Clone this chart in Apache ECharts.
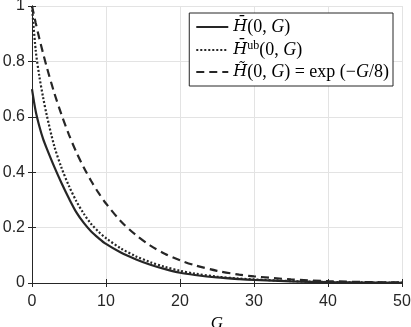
<!DOCTYPE html>
<html lang="en">
<head>
    <meta charset="UTF-8">
    <title>H(0,G)</title>
    <script type="text/javascript" src="https://cdn.jsdelivr.net/npm/echarts@6/dist/echarts.min.js"></script>
    <style>
        html, body {
            margin: 0;
            padding: 0;
            background: #ffffff;
        }
        #chart-container {
            width: 411px;
            height: 327px;
        }
    </style>
</head>
<body>
    <div id="chart-container"></div>

    <script>
        // values
        const gValues = [0, 0.5, 1, 1.5, 2, 3, 4, 5, 6, 7, 8, 9, 10, 12, 14, 16, 18, 20, 22, 25, 28, 30, 35, 40, 45, 50];
        const hBar = [0.70, 0.62, 0.565, 0.52, 0.485, 0.42, 0.36, 0.305, 0.255, 0.217, 0.186, 0.162, 0.141, 0.110, 0.086, 0.066, 0.050, 0.037, 0.029, 0.020, 0.014, 0.011, 0.006, 0.003, 0.0015, 0.0008];
        const hUb = [1.0, 0.84, 0.745, 0.67, 0.605, 0.495, 0.415, 0.35, 0.295, 0.25, 0.213, 0.185, 0.162, 0.125, 0.097, 0.075, 0.058, 0.044, 0.034, 0.023, 0.016, 0.013, 0.007, 0.0035, 0.002, 0.001];
        const hTilde = [1.0, 0.939, 0.882, 0.829, 0.779, 0.687, 0.607, 0.535, 0.472, 0.417, 0.368, 0.325, 0.287, 0.223, 0.174, 0.135, 0.105, 0.082, 0.064, 0.044, 0.030, 0.024, 0.013, 0.0067, 0.0036, 0.0019];
        const seriesNames = ['hbar', 'hub', 'htilde'];
        const legendLabels = {
            hbar: '{h|H\u0304}{r|(0, }{i|G}{r|)}',
            hub: '{h|H\u0304}{s|ub}{r|(0, }{i|G}{r|)}',
            htilde: '{h|H\u0303}{r|(0, }{i|G}{r|) = exp (\u2212}{i|G}{r|/8)}'
        };

        const ink = '#262626';
        const serif = '"Liberation Serif", "DejaVu Serif", serif';
        const sans = '"Liberation Sans", Arial, sans-serif';

        function pairs(ys) {
            return ys.map((y, i) => [gValues[i], y]);
        }

        const myChart = echarts.init(document.getElementById('chart-container'), null, { renderer: 'canvas' });

        const hiddenAxis = {
            axisLine: { show: true, lineStyle: { color: ink, width: 1 } },
            axisTick: { show: true, inside: true, length: 4, lineStyle: { color: ink } },
            axisLabel: { show: false },
            splitLine: { show: false }
        };

        const option = {
            animation: false,
            backgroundColor: '#ffffff',
            grid: {
                left: 32,
                right: 9,
                top: 6,
                bottom: 44,
                containLabel: false,
                outerBoundsMode: 'none'
            },
            legend: {
                orient: 'vertical',
                right: 18,
                top: 13,
                data: seriesNames,
                itemWidth: 32,
                itemHeight: 18,
                itemGap: 4,
                padding: [5, 4, 5, 6],
                backgroundColor: '#ffffff',
                borderColor: ink,
                borderWidth: 1,
                borderRadius: 0,
                itemStyle: { opacity: 0 },
                formatter: name => legendLabels[name],
                textStyle: {
                    color: '#000',
                    rich: {
                        h: { fontFamily: '"DejaVu Serif", serif', fontStyle: 'italic', fontSize: 16, lineHeight: 20, color: '#000' },
                        i: { fontFamily: serif, fontStyle: 'italic', fontSize: 18, lineHeight: 20, color: '#000' },
                        r: { fontFamily: serif, fontSize: 18, lineHeight: 20, color: '#000' },
                        s: { fontFamily: serif, fontSize: 12, lineHeight: 10, color: '#000', verticalAlign: 'top' }
                    }
                }
            },
            xAxis: [
                {
                    type: 'value',
                    min: 0,
                    max: 50,
                    interval: 10,
                    name: 'G',
                    nameLocation: 'middle',
                    nameGap: 24,
                    nameTextStyle: { fontFamily: serif, fontStyle: 'italic', fontSize: 17, color: '#000' },
                    axisLine: { show: true, lineStyle: { color: ink, width: 1 } },
                    axisTick: { show: true, inside: true, length: 4, lineStyle: { color: ink } },
                    axisLabel: { margin: 11, fontFamily: sans, fontSize: 16, color: ink },
                    splitLine: { show: true, lineStyle: { color: '#e3e3e3', width: 1 } }
                },
                Object.assign({ type: 'value', position: 'top', min: 0, max: 50, interval: 10 }, hiddenAxis)
            ],
            yAxis: [
                {
                    type: 'value',
                    min: 0,
                    max: 1,
                    interval: 0.2,
                    axisLine: { show: true, lineStyle: { color: ink, width: 1 } },
                    axisTick: { show: true, inside: true, length: 4, lineStyle: { color: ink } },
                    axisLabel: { margin: 7, fontFamily: sans, fontSize: 16, color: ink },
                    splitLine: { show: true, lineStyle: { color: '#e3e3e3', width: 1 } }
                },
                Object.assign({ type: 'value', position: 'right', min: 0, max: 1, interval: 0.2 }, hiddenAxis)
            ],
            series: [
                {
                    name: 'hbar',
                    type: 'line',
                    data: pairs(hBar),
                    smooth: 0.3,
                    showSymbol: false,
                    symbol: 'none',
                    lineStyle: { color: ink, width: 2.2, type: 'solid' },
                    itemStyle: { color: ink },
                    z: 5
                },
                {
                    name: 'hub',
                    type: 'line',
                    data: pairs(hUb),
                    smooth: 0.3,
                    showSymbol: false,
                    symbol: 'none',
                    lineStyle: { color: ink, width: 2.2, type: [2, 2] },
                    itemStyle: { color: ink },
                    z: 4
                },
                {
                    name: 'htilde',
                    type: 'line',
                    data: pairs(hTilde),
                    smooth: 0.3,
                    showSymbol: false,
                    symbol: 'none',
                    lineStyle: { color: ink, width: 2.2, type: [8, 5] },
                    itemStyle: { color: ink },
                    z: 3
                }
            ]
        };

        myChart.setOption(option);
    </script>
</body>
</html>
